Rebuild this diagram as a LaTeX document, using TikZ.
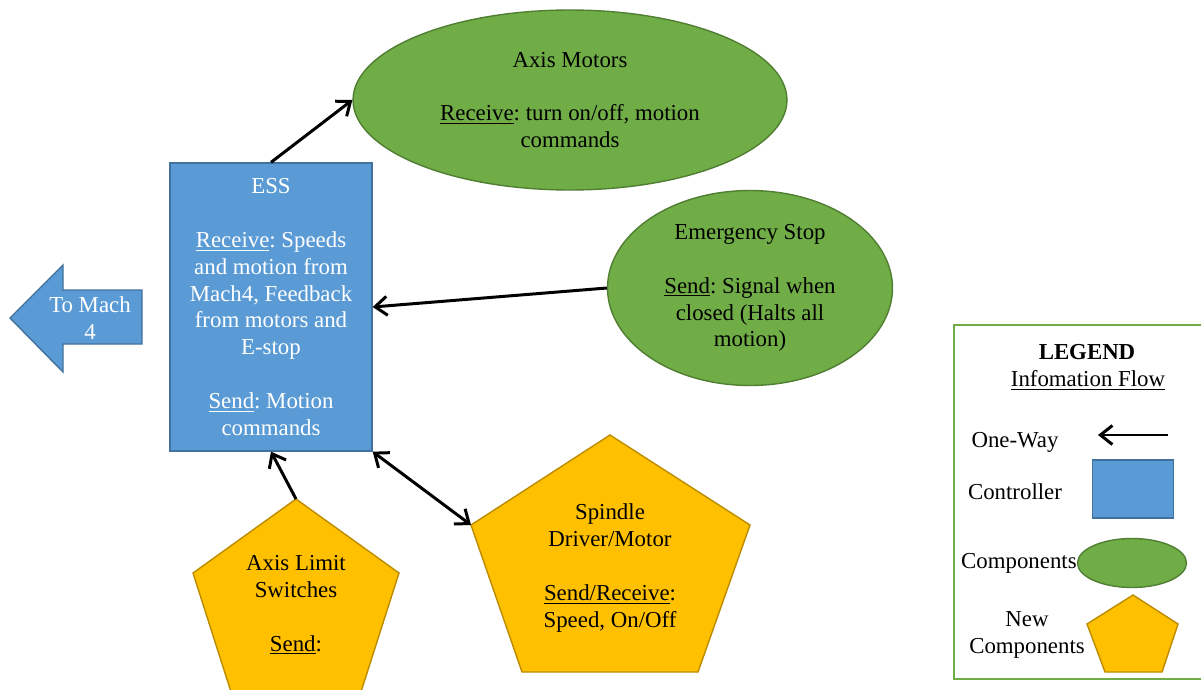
\documentclass[tikz,border=0pt]{standalone}
\usepackage{fontspec}
\setmainfont{Liberation Serif}
\usetikzlibrary{arrows.meta,shapes.geometric}
\frenchspacing

\definecolor{ctrlfill}{HTML}{5B9BD5}
\definecolor{ctrlline}{HTML}{41719C}
\definecolor{compfill}{HTML}{70AD47}
\definecolor{compline}{HTML}{507E32}
\definecolor{newfill}{HTML}{FFC000}
\definecolor{newline}{HTML}{BC8C00}

\begin{document}
\begin{tikzpicture}[x=0.02cm, y=-0.02cm,
  >={Straight Barb[length=2.4mm, width=3.8mm]},
  every node/.append style={font=\fontsize{13}{15.3}\selectfont},
  ctrl/.style={rectangle, draw=ctrlline, fill=ctrlfill, line width=0.8pt, inner sep=0pt, align=center, text=white},
  comp/.style={ellipse, draw=compline, fill=compfill, line width=0.8pt, inner sep=0pt, align=center},
  newc/.style={draw=newline, fill=newfill, line width=0.8pt},
  flow/.style={line width=1.7pt, ->},
  lab/.style={align=center}]
  \useasboundingbox (0,0) rectangle (1201,690);

  % controller and the two old components
  \node[ctrl, minimum width=4.04cm, minimum height=5.76cm] (ess) at (271,307)
    {ESS\\[15.3pt]\underline{Receive}: Speeds\\and motion from\\Mach4, Feedback\\from motors and\\E-stop\\[15.3pt]\underline{Send}: Motion\\commands};
  \node[comp, minimum width=8.68cm, minimum height=3.6cm] (motors) at (570,100)
    {Axis Motors\\[15.3pt]\underline{Receive}: turn on/off, motion\\commands};
  \node[comp, minimum width=5.7cm, minimum height=3.9cm] (estop) at (750,288)
    {Emergency Stop\\[15.3pt]\underline{Send}: Signal when\\closed (Halts all\\motion)};

  % block arrow out to Mach4
  \draw[ctrlline, fill=ctrlfill, line width=0.8pt] (10,318) -- (63,265) -- (63,290) -- (142,290)
    -- (142,344) -- (63,344) -- (63,372) -- cycle;
  \node[lab, text=white] (mach) at (90,318) {To Mach\\4};

  % new components (pentagons)
  \coordinate (lim-t) at (296,499);
  \coordinate (lim-l) at (193,573);
  \coordinate (lim-r) at (399,573);
  \coordinate (lim-bl) at (232,695);
  \coordinate (lim-br) at (360,695);
  \draw[newc] (lim-t) -- (lim-r) -- (lim-br) -- (lim-bl) -- (lim-l) -- cycle;
  \node[lab] (lim) at (296,605) {Axis Limit\\Switches\\[15.3pt]\underline{Send}:};

  \coordinate (spin-t) at (610,435);
  \coordinate (spin-l) at (471,525);
  \coordinate (spin-r) at (750,525);
  \coordinate (spin-bl) at (522,672);
  \coordinate (spin-br) at (698,672);
  \draw[newc] (spin-t) -- (spin-r) -- (spin-br) -- (spin-bl) -- (spin-l) -- cycle;
  \node[lab] (spin) at (610,568) {Spindle\\Driver/Motor\\[15.3pt]\underline{Send/Receive}:\\Speed, On/Off};

  % information flow
  \draw[flow] (ess.north) -- (motors.west);
  \draw[flow] (estop.west) -- (ess.east);
  \draw[flow] (lim-t) -- (ess.south);
  \draw[flow, <->] (ess.south east) -- (spin-l);

  % legend
  \draw[compfill, line width=1.1pt] (954,325) rectangle (1210,679);
  \node[lab] (lg-title) at (1087,352) {\textbf{LEGEND}};
  \node[lab] (lg-sub) at (1088,380) {\underline{Infomation Flow}};
  \node[lab] (lg-one) at (1015,442) {One-Way};
  \coordinate (lg-a) at (1168,435);
  \coordinate (lg-b) at (1098,435);
  \draw[flow] (lg-a) -- (lg-b);
  \node[lab] (lg-ctrl) at (1015,492) {Controller};
  \node[ctrl, minimum width=1.62cm, minimum height=1.16cm] (lg-box) at (1133,489) {};
  \node[lab, anchor=east, inner sep=0pt] (lg-comp) at (1077,563) {Components};
  \node[comp, minimum width=2.18cm, minimum height=0.98cm] (lg-ell) at (1132,563) {};
  \node[lab] (lg-new) at (1027,635) {New\\Components};
  \draw[newc] (1133,595) -- (1178,624) -- (1162,672) -- (1105,672) -- (1087,624) -- cycle;
\end{tikzpicture}
\end{document}
